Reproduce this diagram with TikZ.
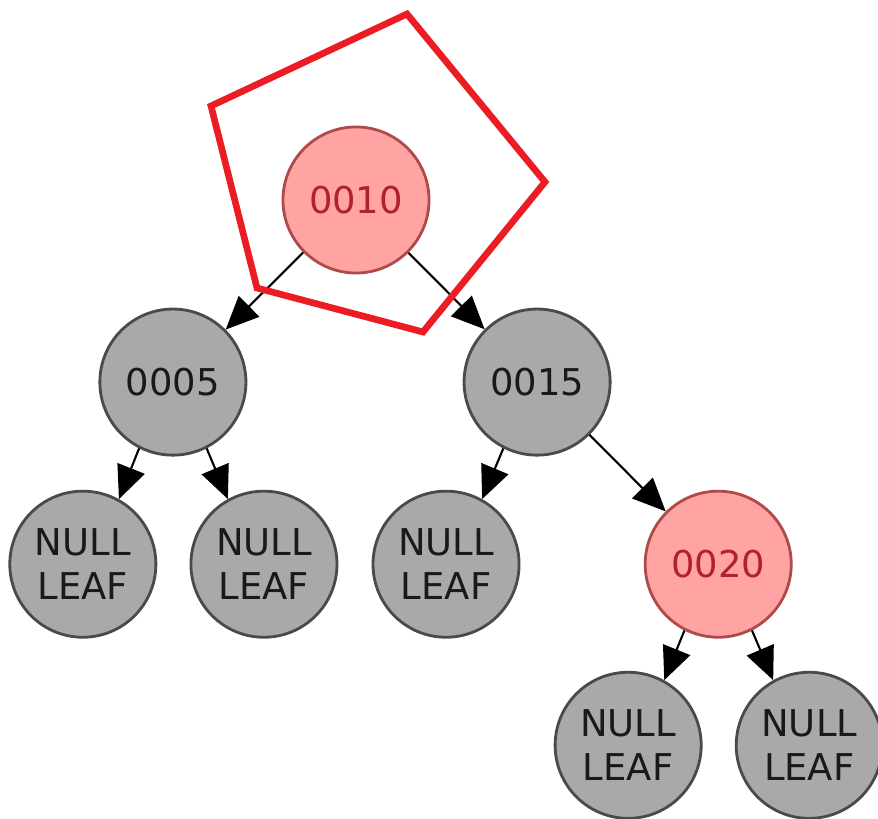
\documentclass[tikz,border=0pt]{standalone}
\usepackage{fontspec}
\setsansfont{DejaVu Sans}
\usetikzlibrary{arrows.meta,positioning}

\definecolor{rbred}{HTML}{FFA3A3}
\definecolor{rbredline}{HTML}{B04A4A}
\definecolor{rbredtext}{HTML}{B0222A}
\definecolor{rbgray}{HTML}{A9A9A9}
\definecolor{rbgrayline}{HTML}{4A4A4A}
\definecolor{markred}{HTML}{EC1C24}

\begin{document}
\begin{tikzpicture}[x=0.01cm,y=-0.01cm,on grid,node distance=1.82cm and 1.82cm,
    rb node/.style={circle,minimum size=1.46cm,inner sep=0pt,line width=0.8pt,align=center,
        font=\sffamily\fontsize{10.5}{12.5}\selectfont},
    black node/.style={rb node,fill=rbgray,draw=rbgrayline,text=black!90},
    red node/.style={rb node,fill=rbred,draw=rbredline,text=rbredtext},
    >={Triangle[length=0.33cm,width=0.29cm]}]
    \useasboundingbox (0,0) rectangle (878,819);

    \node[red node] (n_10) at (356,200) {0010};
    \node[black node] [below left=1.82cm and 1.83cm of n_10] (n_05) {0005};
    \node[black node] [below right=1.82cm and 1.81cm of n_10] (n_15) {0015};
    \node[black node] [below left=1.82cm and 0.90cm of n_05] (leaf_1) {NULL\\LEAF};
    \node[black node] [below right=1.82cm and 0.91cm of n_05] (leaf_2) {NULL\\LEAF};
    \node[black node] [below left=1.82cm and 0.91cm of n_15] (leaf_3) {NULL\\LEAF};
    \node[red node] [below right=1.82cm and 1.81cm of n_15] (n_20) {0020};
    \node[black node] [below left=1.81cm and 0.90cm of n_20] (leaf_4) {NULL\\LEAF};
    \node[black node] [below right=1.81cm and 0.91cm of n_20] (leaf_5) {NULL\\LEAF};

    \path[->,every edge/.append style={draw=black,line width=0.6pt}]
    (n_10) edge (n_05)
    (n_10) edge (n_15)
    (n_15) edge (n_20)
    (n_05.243) edge (leaf_1.61)
    (n_05.297) edge (leaf_2.119)
    (n_15.243) edge (leaf_3.61)
    (n_20.243) edge (leaf_4.61)
    (n_20.297) edge (leaf_5.119)
    ;

    % marked rotation
    \draw[markred,line width=1.9pt,line join=miter]
    (407,14) -- (545,182) -- (423,332) -- (257,288) -- (211,106) -- cycle;
\end{tikzpicture}
\end{document}
